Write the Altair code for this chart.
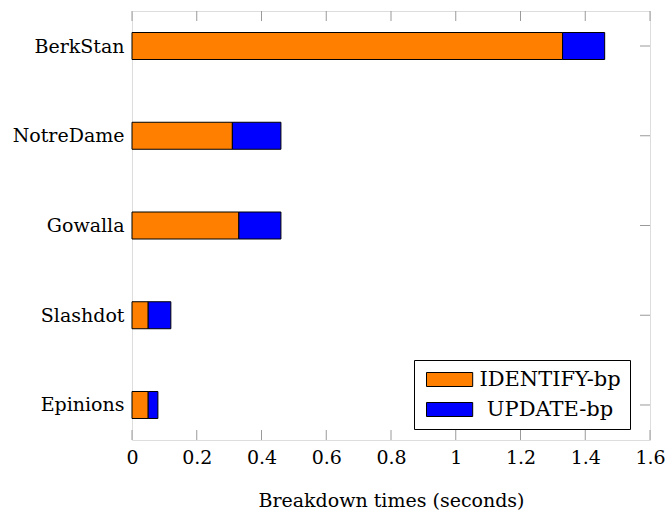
import altair as alt
import pandas as pd

datasets = ["BerkStan", "NotreDame", "Gowalla", "Slashdot", "Epinions"]
series = ["IDENTIFY-bp", "UPDATE-bp"]
identify = [1.33, 0.31, 0.33, 0.05, 0.05]
update = [0.13, 0.15, 0.13, 0.07, 0.03]
x_ticks = [0, 0.2, 0.4, 0.6, 0.8, 1.0, 1.2, 1.4, 1.6]
colors = ["#FF8000", "#0000FF"]

rows = []
for d, a, b in zip(datasets, identify, update):
    rows.append({"dataset": d, "series": series[0], "start": 0.0, "end": a})
    rows.append({"dataset": d, "series": series[1], "start": a, "end": a + b})
bars_df = pd.DataFrame(rows)
ticks_df = pd.DataFrame({"v": x_ticks})
cats_df = pd.DataFrame({"dataset": datasets})

FONT = "DejaVu Serif"
FS = 19
W, H = 518, 429
TICK = "#9a9a9a"

xscale = alt.Scale(domain=[0, 1.6], nice=False, zero=False)
yscale = alt.Scale(type="point", domain=datasets, padding=0.39)

bars = alt.Chart(bars_df).mark_bar(size=27, stroke="black", strokeWidth=1).encode(
    y=alt.Y("dataset:N", sort=datasets, scale=yscale,
            axis=alt.Axis(title=None, domain=False, ticks=False, tickSize=0,
                          labelPadding=8, labelFont=FONT, labelFontSize=FS,
                          labelColor="black")),
    x=alt.X("start:Q", scale=xscale,
            axis=alt.Axis(title="Breakdown times (seconds)", values=x_ticks, format="~g",
                          domain=False, ticks=False, tickSize=0, grid=False,
                          labelFont=FONT, labelFontSize=FS, labelColor="black",
                          labelBaseline="alphabetic", labelPadding=23,
                          labelFlush=False, labelOverlap=False,
                          titleFont=FONT, titleFontSize=FS, titleFontWeight="normal",
                          titleColor="black", titleBaseline="alphabetic", titleY=66)),
    x2="end:Q",
    color=alt.Color("series:N", scale=alt.Scale(domain=series, range=colors),
                    legend=alt.Legend(title=None, orient="none", legendX=282, legendY=349,
                                      symbolType="M-1,-1H5.6V1H-1Z", symbolSize=196,
                                      symbolStrokeColor="black", symbolStrokeWidth=1,
                                      labelFont=FONT, labelFontSize=21, labelColor="black",
                                      labelAlign="center", labelOffset=106, labelLimit=300,
                                      rowPadding=8, padding=9,
                                      strokeColor="black", fillColor="white")),
)

bottom_ticks = alt.Chart(ticks_df).mark_rule(color=TICK, strokeWidth=1).encode(
    x=alt.X("v:Q", scale=xscale), y=alt.value(H), y2=alt.value(H - 10))
top_ticks = alt.Chart(ticks_df).mark_rule(color=TICK, strokeWidth=1).encode(
    x=alt.X("v:Q", scale=xscale), y=alt.value(0), y2=alt.value(10))
right_ticks = alt.Chart(cats_df).mark_rule(color=TICK, strokeWidth=1).encode(
    y=alt.Y("dataset:N", sort=datasets, scale=yscale), x=alt.value(W), x2=alt.value(W - 10))

chart = alt.layer(bottom_ticks, top_ticks, right_ticks, bars).properties(
    width=W, height=H,
    autosize=alt.AutoSizeParams(type="none"),
    padding={"left": 132, "top": 11, "right": 15, "bottom": 70},
).configure_view(stroke="black", strokeWidth=1.2).configure(background="white")

chart.save("out.html", embed_options={"renderer": "svg", "actions": False})
